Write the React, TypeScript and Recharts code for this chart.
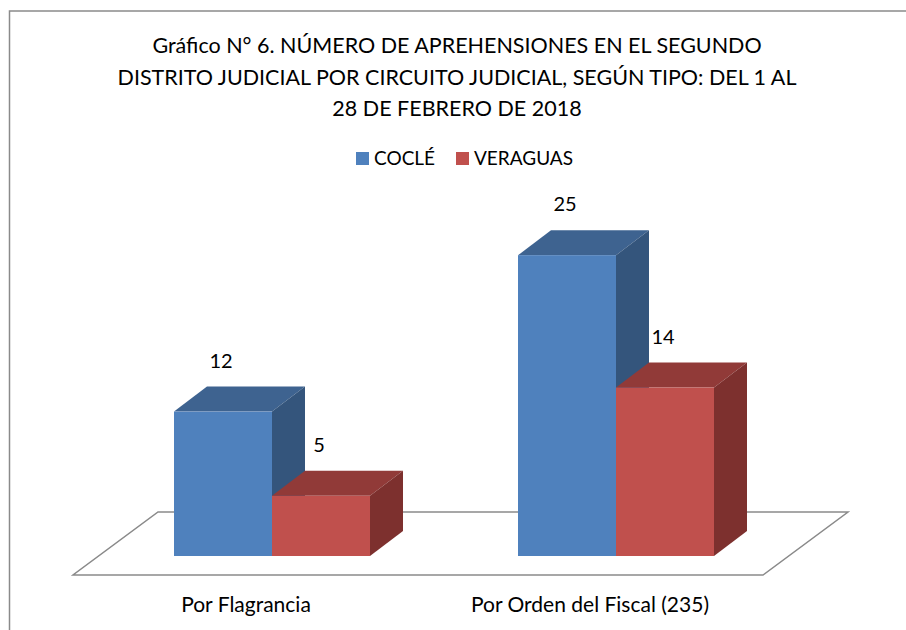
import React from 'react';
import { BarChart, Bar, XAxis, YAxis, LabelList } from 'recharts';

// ---- data ----
const categories = ['Por Flagrancia', 'Por Orden del Fiscal (235)'];
const cocle = [12, 25];
const veraguas = [5, 14];
const seriesNames = ['COCLÉ', 'VERAGUAS'];
const titleLines = [
  'Gráfico N° 6. NÚMERO DE APREHENSIONES EN EL SEGUNDO',
  'DISTRITO JUDICIAL POR CIRCUITO JUDICIAL, SEGÚN TIPO: DEL 1 AL',
  '28 DE FEBRERO DE 2018',
];
const yDomain = [0, 30];

const data = categories.map((c, i) => ({ name: c, cocle: cocle[i], veraguas: veraguas[i] }));

// ---- layout / style ----
const W = 906;
const H = 630;
const MARGIN = { top: 195, right: 118, bottom: 14, left: 100 };
const XAXIS_H = 60;
const PLOT_BOTTOM = H - MARGIN.bottom - XAXIS_H;
const PLOT_LEFT = MARGIN.left;
const PLOT_RIGHT = W - MARGIN.right;
const DX = 33;
const DY = 25;
const FONT = 'Lato, "Open Sans", sans-serif';
const TEXT = '#000000';
const GRAY = '#8a8a8a';

const COLORS = [
  { front: '#4F81BD', top: '#3E6390', side: '#34557C' },
  { front: '#C0504D', top: '#913A38', side: '#7D302E' },
];

const make3D = (c: { front: string; top: string; side: string }) => (props: any) => {
  const { x, y, width, height } = props;
  if (width == null || height == null) return <g />;
  const top = `M${x},${y} L${x + DX},${y - DY} L${x + width + DX},${y - DY} L${x + width},${y} Z`;
  const side = `M${x + width},${y} L${x + width + DX},${y - DY} L${x + width + DX},${y + height - DY} L${x + width},${y + height} Z`;
  return (
    <g>
      <path d={top} fill={c.top} />
      <path d={side} fill={c.side} />
      <rect x={x} y={y} width={width} height={height} fill={c.front} />
    </g>
  );
};

const valueLabel = (props: any) => {
  const { x, y, width, value } = props;
  return (
    <text
      x={x + width / 2 - 2}
      y={y - 52}
      textAnchor="middle"
      dominantBaseline="central"
      fontFamily={FONT}
      fontSize={20}
      fill={TEXT}
    >
      {value}
    </text>
  );
};

const CatTick = (props: any) => {
  const { x, y, payload } = props;
  return (
    <text x={x - 26} y={y + 56} textAnchor="middle" fontFamily={FONT} fontSize={21} fill={TEXT}>
      {payload.value}
    </text>
  );
};

const Underlay = () => {
  const fFrontY = PLOT_BOTTOM + 19;
  const fBackY = PLOT_BOTTOM - 44;
  const floor = `M${PLOT_LEFT - 27},${fFrontY} L${PLOT_RIGHT - 25},${fFrontY} L${PLOT_RIGHT + 60},${fBackY} L${PLOT_LEFT + 58},${fBackY} Z`;
  const legendItems = [
    { name: seriesNames[0], color: COLORS[0].front, x: 356 },
    { name: seriesNames[1], color: COLORS[1].front, x: 456 },
  ];
  return (
    <svg width={W} height={H} style={{ position: 'absolute', left: 0, top: 0 }}>
      <rect x={9.5} y={11} width={W + 20} height={H + 20} fill="#ffffff" stroke={GRAY} strokeWidth={1.5} />
      {titleLines.map((t, i) => (
        <text
          key={i}
          x={457}
          y={53 + i * 31.5}
          textAnchor="middle"
          fontFamily={FONT}
          fontSize={21.5}
          fill={TEXT}
        >
          {t}
        </text>
      ))}
      {legendItems.map((it) => (
        <g key={it.name}>
          <rect x={it.x} y={152} width={13} height={13} fill={it.color} />
          <text x={it.x + 18} y={165} fontFamily={FONT} fontSize={19} fill={TEXT}>
            {it.name}
          </text>
        </g>
      ))}
      <path d={floor} fill="#ffffff" stroke={GRAY} strokeWidth={1.5} />
    </svg>
  );
};

export default function App() {
  return (
    <div style={{ position: 'absolute', left: 0, top: 0, width: W, height: H, background: '#fff' }}>
      <Underlay />
      <div style={{ position: 'absolute', left: 0, top: 0 }}>
        <BarChart width={W} height={H} data={data} margin={MARGIN} barGap={0}>
          <XAxis
            dataKey="name"
            axisLine={false}
            tickLine={false}
            tickSize={0}
            tickMargin={0}
            height={XAXIS_H}
            interval={0}
            tick={<CatTick />}
          />
          <YAxis hide domain={yDomain} width={0} />
          <Bar dataKey="cocle" name={seriesNames[0]} barSize={98} shape={make3D(COLORS[0])} isAnimationActive={false}>
            <LabelList dataKey="cocle" content={valueLabel} />
          </Bar>
          <Bar dataKey="veraguas" name={seriesNames[1]} barSize={98} shape={make3D(COLORS[1])} isAnimationActive={false}>
            <LabelList dataKey="veraguas" content={valueLabel} />
          </Bar>
        </BarChart>
      </div>
    </div>
  );
}
